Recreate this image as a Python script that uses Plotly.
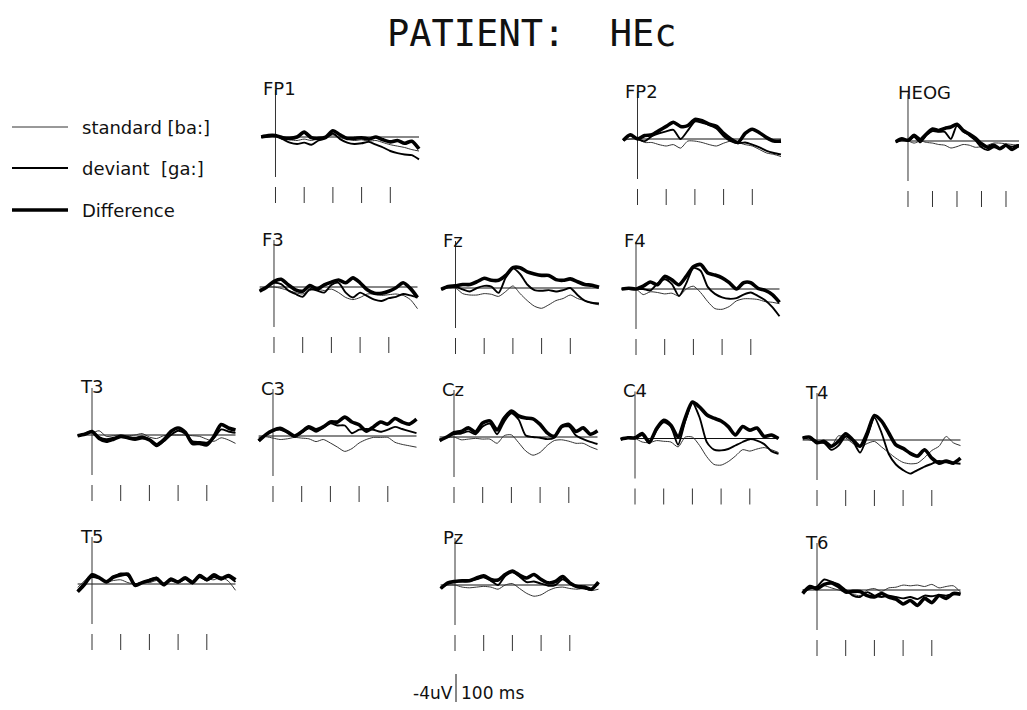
import plotly.graph_objects as go

# ---------------- data (µV, negative = up, as in the original ERP plot) ----------------
times = [-50, -25, 0, 25, 50, 75, 100, 125, 150, 175, 200, 225, 250, 275, 300, 325, 350, 375, 400, 425, 450, 475, 500]
tick_ms = [0, 100, 200, 300, 400]
channels = ["FP1", "FP2", "HEOG", "F3", "Fz", "F4", "T3", "C3", "Cz", "C4", "T4", "T5", "Pz", "T6"]
series_names = ["standard [ba:]", "deviant  [ga:]", "Difference"]

FP1_std = [0.0, 0.0, -0.1, 0.2, 0.4, 0.5, 0.3, 0.5, 0.2, 0.0, -0.3, 0.1, 0.3, 0.5, 0.4, 0.6, 0.5, 0.8, 1.1, 1.3, 1.5, 1.8, 2.0]
FP1_dev = [0.0, -0.1, -0.2, 0.3, 0.8, 1.0, 0.8, 1.1, 0.5, 0.2, -0.5, 0.3, 0.8, 1.0, 0.9, 0.7, 1.1, 1.5, 2.0, 2.3, 2.5, 2.6, 3.2]
FP1_diff = [0.0, -0.2, -0.2, 0.1, 0.2, 0.0, -0.7, 0.1, 0.2, 0.0, -0.9, -0.3, 0.2, 0.2, 0.1, 0.3, 0.0, 0.4, 0.7, 0.5, 0.9, 0.6, 1.7]

FP2_std = [0.2, 0.0, 0.0, 0.5, 0.5, 0.8, 1.0, 0.8, 1.3, 0.3, 0.3, 0.5, 0.8, 1.0, 0.6, 0.3, 0.5, 0.8, 1.0, 1.5, 2.0, 2.2, 2.5]
FP2_dev = [0.2, -0.5, 0.0, 0.3, -0.4, -0.8, -1.1, -1.3, 0.0, -1.2, -2.5, -2.3, -2.0, -1.5, -0.4, 0.3, 0.6, 0.5, 0.8, 1.2, 1.7, 2.0, 2.2]
FP2_diff = [0.2, -0.6, 0.0, -0.5, -0.6, -1.2, -1.8, -2.4, -1.8, -1.9, -2.8, -2.6, -2.1, -1.8, -0.8, 0.0, 0.5, -0.8, -1.4, -0.9, -0.2, 0.3, 0.3]

HEOG_std = [0.1, 0.0, 0.0, 0.3, 0.0, 0.2, 0.3, 0.5, 0.6, 1.0, 0.8, 0.5, 0.6, 0.9, 0.8, 0.6, 0.3, 0.3, 0.4, 0.5, 0.6, 0.5, 0.5]
HEOG_dev = [0.2, -0.3, 0.0, -0.6, 0.2, -0.8, -1.4, -1.3, -1.3, -0.3, -2.2, -1.4, -0.8, -0.1, 0.9, 1.3, 0.9, 1.0, 0.7, 0.8, 0.6, 0.8, 0.5]
HEOG_diff = [0.1, -0.3, -0.1, -0.8, -0.2, -1.0, -1.7, -1.5, -1.8, -2.0, -2.4, -1.5, -1.0, -0.4, 0.4, 0.9, 0.6, 1.1, 0.6, 1.2, 0.7, 0.9, 0.4]

F3_std = [0.3, 0.0, 0.0, 0.2, 0.5, 0.8, 1.0, 0.5, 0.3, 0.5, 0.3, 0.8, 1.5, 1.8, 1.5, 1.0, 1.0, 1.2, 1.1, 1.0, 1.2, 1.8, 3.1]
F3_dev = [0.6, 0.0, -0.6, -0.4, 0.5, 1.0, 1.4, 0.3, 0.5, 0.8, -0.3, -0.6, 0.8, 1.5, 0.8, 1.3, 1.8, 2.0, 1.6, 1.4, 1.0, 1.2, 1.5]
F3_diff = [0.6, 0.0, -0.8, -1.1, -0.3, 0.4, 0.6, -0.2, 0.3, -0.3, -0.7, -1.0, -0.6, -1.3, -0.6, 0.4, 0.9, 0.9, 0.6, 0.1, -0.6, 0.2, 1.5]

Fz_std = [0.2, 0.0, 0.0, 0.8, 1.0, 1.0, 0.8, 0.9, 1.2, 0.5, -0.3, 0.8, 1.8, 2.6, 2.9, 2.4, 1.8, 1.5, 1.0, 1.5, 1.8, 2.2, 2.4]
Fz_dev = [0.2, -0.2, -0.2, 0.2, 0.5, 0.0, -0.3, -0.2, 0.7, -1.5, -2.8, -2.0, -0.5, 0.3, 0.4, 0.3, 0.5, 0.3, 0.0, 1.0, 1.8, 2.1, 2.2]
Fz_diff = [0.2, -0.2, -0.3, -0.5, -0.5, -0.9, -1.4, -1.1, -1.1, -1.8, -2.9, -2.9, -2.3, -2.0, -1.8, -1.8, -1.2, -1.1, -1.3, -0.9, -0.5, -0.4, -0.1]

F4_std = [0.0, 0.0, 0.0, 0.8, 0.4, 0.5, 0.7, 0.6, 1.0, 0.0, -0.4, 0.5, 1.8, 2.8, 2.9, 2.5, 1.7, 1.4, 1.4, 1.5, 1.8, 1.9, 2.1]
F4_dev = [0.0, 0.0, 0.0, 0.0, 0.2, -0.8, -1.4, -0.7, 1.0, -0.8, -3.0, -2.6, -0.3, 0.7, 1.2, 1.4, 1.3, 0.8, 0.5, 1.0, 1.6, 2.6, 3.9]
F4_diff = [0.0, -0.1, 0.0, -0.4, -1.0, -0.6, -1.8, -1.3, -0.6, -1.8, -3.2, -3.5, -2.3, -2.0, -1.6, -0.9, 0.0, -0.9, -0.9, -0.1, 0.2, 0.8, 1.9]

T3_std = [0.0, -0.1, -0.3, -0.6, 0.2, 0.1, 0.0, 0.1, 0.0, -0.2, 0.3, 0.5, 0.1, 0.0, 0.0, 0.0, 0.1, 0.2, 0.6, 0.9, 0.4, 0.7, 1.2]
T3_dev = [0.1, -0.2, -0.5, 0.3, 0.6, 0.4, 0.2, 0.3, 0.4, 0.2, 0.6, 1.6, 0.9, 0.0, -0.6, -0.2, 0.9, 1.0, 1.1, 0.4, -0.8, -0.5, -0.3]
T3_diff = [0.1, -0.1, -0.5, 0.5, 0.9, 0.6, 0.2, 0.4, 0.6, 0.4, 0.7, 1.4, 0.7, -0.5, -1.0, -0.4, 1.2, 1.2, 1.4, 0.2, -1.5, -1.0, -0.7]

C3_std = [0.2, 0.1, 0.3, 0.5, 0.4, 0.2, 0.3, 0.4, 0.8, 0.5, 1.0, 1.6, 2.2, 1.8, 1.0, 0.5, 0.2, 0.2, 0.2, 0.9, 1.2, 1.4, 1.6]
C3_dev = [0.7, -0.2, -0.7, -0.9, -0.5, 0.1, -0.5, -1.1, -0.6, -1.2, -1.8, -1.5, -1.5, -0.4, -0.9, -1.0, -0.9, -0.6, -0.9, -1.3, -1.0, -0.7, -0.4]
C3_diff = [0.7, -0.2, -0.8, -1.1, -0.6, 0.0, -0.6, -1.3, -0.9, -1.3, -2.0, -2.0, -2.7, -2.0, -1.6, -0.7, -1.3, -2.0, -1.7, -2.5, -2.0, -1.7, -2.4]

Cz_std = [0.3, 0.1, 0.0, 0.4, 0.3, 0.2, 0.3, 0.3, 0.9, -0.2, -0.3, 0.8, 2.0, 2.6, 2.2, 1.2, 0.5, 0.4, 0.6, 0.9, 0.9, 1.4, 1.8]
Cz_dev = [0.5, 0.0, -0.4, -0.5, -0.8, -0.4, -1.5, -1.9, -0.4, -2.2, -3.4, -2.5, -0.2, 0.0, 0.1, 0.3, 0.1, -1.4, -1.5, -0.2, 0.3, 0.7, 1.0]
Cz_diff = [0.5, 0.0, -0.6, -0.8, -1.3, -0.7, -2.0, -2.3, -1.0, -2.7, -3.7, -3.0, -2.7, -2.6, -1.8, -0.6, -0.1, -1.5, -1.8, -0.8, -1.3, -0.4, -0.9]

C4_std = [0.0, 0.0, 0.0, 0.5, 0.6, 0.3, 0.4, 0.5, 1.2, -0.2, -0.2, 1.0, 2.6, 3.7, 3.8, 3.3, 2.5, 1.6, 1.8, 1.5, 1.3, 1.6, 2.0]
C4_dev = [0.1, -0.1, 0.0, -0.5, 0.7, -1.2, -2.3, -1.7, 0.9, -2.5, -5.1, -3.0, 0.5, 1.6, 1.7, 1.5, 1.0, 0.5, 0.1, 0.3, 0.8, 1.8, 2.2]
C4_diff = [0.1, -0.1, -0.1, -0.7, 0.5, -1.4, -2.6, -1.9, -0.2, -2.9, -5.2, -4.5, -3.4, -2.9, -2.5, -1.7, -0.5, -1.7, -1.2, -1.5, -0.3, -0.5, 0.0]

T4_std = [-0.3, 0.0, 0.3, 0.5, 0.8, -0.6, -0.3, 0.5, 1.0, 0.5, 0.2, 1.0, 1.8, 2.6, 3.2, 3.4, 3.3, 2.5, 1.5, 0.9, -0.5, 0.4, 0.8]
T4_dev = [-0.3, -0.4, 0.2, 0.4, 1.4, 0.8, -0.5, 0.2, 1.8, -0.5, -3.2, -1.0, 2.0, 3.5, 4.3, 4.8, 4.3, 3.8, 3.4, 3.0, 3.2, 3.3, 3.4]
T4_diff = [-0.3, -0.4, 0.4, 0.2, 0.9, 0.2, -0.9, 0.0, 0.9, -1.0, -3.5, -2.7, -1.0, 0.7, 1.2, 1.9, 2.3, 1.4, 2.6, 3.3, 3.0, 3.3, 2.6]

T5_std = [0.5, -0.5, -1.5, -0.8, -0.3, -0.5, -0.6, -0.2, 0.0, -0.3, -0.2, -0.5, -0.2, -0.6, -0.3, -0.9, -0.5, -1.2, -0.8, -0.6, -1.0, -0.4, 0.9]
T5_dev = [1.0, -0.2, -1.0, -0.8, -0.4, -1.0, -1.5, -1.2, 0.0, -0.2, -0.6, -0.9, 0.0, -0.5, -0.2, -0.7, -0.1, -1.0, -0.5, -1.0, -0.6, -1.0, -0.3]
T5_diff = [1.1, 0.0, -1.3, -0.9, -0.3, -1.0, -1.3, -1.4, 0.2, -0.2, -0.5, -0.8, 0.1, -0.7, -0.3, -0.9, -0.2, -1.2, -0.6, -1.3, -0.8, -1.2, -0.6]

Pz_std = [0.3, 0.0, 0.0, 0.3, 0.4, 0.3, 0.2, 0.3, 0.6, 0.0, -0.2, 0.5, 1.2, 1.6, 1.4, 0.8, 0.4, 0.3, 0.5, 0.6, 0.5, 0.8, 0.6]
Pz_dev = [0.5, -0.2, -0.5, -0.5, -0.6, -0.8, -1.1, -0.6, 0.0, -1.3, -1.8, -1.2, -0.4, -0.5, -0.2, 0.1, 0.0, -0.8, -0.2, 0.3, 0.5, 0.6, -0.3]
Pz_diff = [0.5, -0.3, -0.5, -0.6, -0.6, -1.0, -1.3, -0.8, -0.7, -1.5, -2.0, -1.4, -1.0, -1.5, -0.8, -0.3, -0.5, -1.2, -0.3, 0.2, 0.3, 0.6, -0.4]

T6_std = [0.0, -0.2, -0.3, -0.6, -0.3, 0.0, 0.3, 0.6, 0.8, 0.0, -0.2, 0.2, -0.3, -0.4, -0.7, -0.6, -0.7, -0.5, -0.8, -0.3, -0.5, -0.6, 0.3]
T6_dev = [0.3, -0.2, -0.5, -1.5, -1.2, -0.8, 0.0, 0.8, 1.0, 0.3, 0.8, 1.0, 0.8, 1.0, 1.2, 1.0, 1.3, 0.8, 0.9, 0.7, 0.8, 0.6, 0.5]
T6_diff = [0.5, -0.5, -0.2, -0.8, -1.0, -0.5, 0.3, 0.2, 0.2, 0.8, 1.0, 0.5, 1.0, 1.3, 2.0, 1.5, 2.2, 1.2, 1.8, 0.8, 1.2, 0.5, 0.6]

calib_uv = -4      # calibration bar: -4 µV
calib_ms = 100

DATA = {
    "FP1": (FP1_std, FP1_dev, FP1_diff), "FP2": (FP2_std, FP2_dev, FP2_diff),
    "HEOG": (HEOG_std, HEOG_dev, HEOG_diff), "F3": (F3_std, F3_dev, F3_diff),
    "Fz": (Fz_std, Fz_dev, Fz_diff), "F4": (F4_std, F4_dev, F4_diff),
    "T3": (T3_std, T3_dev, T3_diff), "C3": (C3_std, C3_dev, C3_diff),
    "Cz": (Cz_std, Cz_dev, Cz_diff), "C4": (C4_std, C4_dev, C4_diff),
    "T4": (T4_std, T4_dev, T4_diff), "T5": (T5_std, T5_dev, T5_diff),
    "Pz": (Pz_std, Pz_dev, Pz_diff), "T6": (T6_std, T6_dev, T6_diff),
}

# ---------------- layout (positions in window pixels) ----------------
OFF = 8                          # page body margin
W, H = 1027 - 2 * OFF, 710 - 2 * OFF   # figure fits the window exactly (no scrollbars)
PX_UV = 7.0           # pixels per µV
# zero-time x, baseline y, pixels per ms
POS = {
    "FP1": (275.5, 137, 0.287), "FP2": (637.5, 139, 0.287), "HEOG": (908, 141, 0.245),
    "F3": (274, 287, 0.287), "Fz": (455.5, 288, 0.287), "F4": (636, 289, 0.287),
    "T3": (92, 435, 0.287), "C3": (273, 436, 0.287), "Cz": (454, 437, 0.287),
    "C4": (635, 438.5, 0.287), "T4": (817, 440, 0.287),
    "T5": (92, 584, 0.287), "Pz": (455, 585, 0.287), "T6": (817, 590, 0.287),
}
TOP_PX, BOT_PX = 60, 72
MS_LEFT, MS_RIGHT = 60, 520
FONT = "DejaVu Sans, sans-serif"


def px_x(px):
    return (px - OFF) / W


def px_y(py):
    return 1 - (py - OFF) / H


STYLES = [dict(width=1.0, color="#333"), dict(width=1.9, color="#000"), dict(width=3.6, color="#000")]

fig = go.Figure()
layout = dict(width=W, height=H, margin=dict(l=0, r=0, t=0, b=0),
              paper_bgcolor="white", plot_bgcolor="white", showlegend=False)
annotations = []
shapes = []

for k, ch in enumerate(channels, start=1):
    axx, base, sx = POS[ch]
    x0 = px_x(axx - MS_LEFT * sx)
    x1 = px_x(axx + MS_RIGHT * sx)
    xr = [-MS_LEFT, MS_RIGHT]
    if x1 > 1.0:
        xr = [-MS_LEFT, -MS_LEFT + (1.0 - x0) * W / sx]
        x1 = 1.0
    y0 = px_y(base + BOT_PX)
    y1 = px_y(base - TOP_PX)
    xn = "x" if k == 1 else f"x{k}"
    yn = "y" if k == 1 else f"y{k}"
    layout["xaxis" if k == 1 else f"xaxis{k}"] = dict(domain=[x0, x1], range=xr, visible=False,
                                                     anchor=yn, fixedrange=True)
    layout["yaxis" if k == 1 else f"yaxis{k}"] = dict(domain=[y0, y1],
                                                     range=[BOT_PX / PX_UV, -TOP_PX / PX_UV],
                                                     visible=False, anchor=xn, fixedrange=True)
    # baseline
    fig.add_trace(go.Scatter(x=[times[0], times[-1]], y=[0, 0], mode="lines",
                             line=dict(color="#111", width=1), xaxis=xn, yaxis=yn, hoverinfo="skip"))
    # zero-time vertical axis
    fig.add_trace(go.Scatter(x=[0, 0], y=[-47 / PX_UV, 40 / PX_UV], mode="lines",
                             line=dict(color="#333", width=1), xaxis=xn, yaxis=yn, hoverinfo="skip"))
    # time ticks (every 100 ms)
    tx, ty = [], []
    for t in tick_ms:
        tx += [t, t, None]
        ty += [50 / PX_UV, 66 / PX_UV, None]
    fig.add_trace(go.Scatter(x=tx, y=ty, mode="lines", line=dict(color="#333", width=1),
                             xaxis=xn, yaxis=yn, hoverinfo="skip"))
    # waveforms
    for s, vals in enumerate(DATA[ch]):
        fig.add_trace(go.Scatter(x=times, y=vals, mode="lines", name=series_names[s],
                                 line=dict(shape="spline", smoothing=0.7, **STYLES[s]),
                                 xaxis=xn, yaxis=yn))
    annotations.append(dict(x=-50, y=-48 / PX_UV, xref=xn, yref=yn, text=ch, showarrow=False,
                            xanchor="left", yanchor="middle",
                            font=dict(family=FONT, size=18, color="#111")))

# calibration bar axes (bar spans 0 .. -4 µV at the panel scale)
k = len(channels) + 1
cal_x, cal_base = 456, 702
layout[f"xaxis{k}"] = dict(domain=[px_x(cal_x - 20), px_x(cal_x + 20)], range=[-20 / 0.287, 20 / 0.287],
                           visible=False, anchor=f"y{k}", fixedrange=True)
layout[f"yaxis{k}"] = dict(domain=[px_y(cal_base), px_y(cal_base - 40)], range=[0, -40 / PX_UV],
                           visible=False, anchor=f"x{k}", fixedrange=True)
fig.add_trace(go.Scatter(x=[0, 0], y=[0, calib_uv], mode="lines", line=dict(color="#111", width=1),
                         xaxis=f"x{k}", yaxis=f"y{k}", hoverinfo="skip", cliponaxis=False))
annotations.append(dict(x=-4, y=-9 / PX_UV, xref=f"x{k}", yref=f"y{k}", text=f"{calib_uv}uV",
                        showarrow=False, xanchor="right", yanchor="middle",
                        font=dict(family=FONT, size=17, color="#111")))
annotations.append(dict(x=12, y=-9 / PX_UV, xref=f"x{k}", yref=f"y{k}", text=f"{calib_ms} ms",
                        showarrow=False, xanchor="left", yanchor="middle",
                        font=dict(family=FONT, size=17, color="#111")))

# legend (drawn as sample lines + labels, top-left)
leg_y = [127, 168, 210]
for s, name in enumerate(series_names):
    yp = px_y(leg_y[s])
    shapes.append(dict(type="line", xref="paper", yref="paper", x0=px_x(12), x1=px_x(68), y0=yp, y1=yp,
                       line=dict(color=STYLES[s]["color"], width=STYLES[s]["width"])))
    annotations.append(dict(x=px_x(80), y=yp, xref="paper", yref="paper",
                            text=name.replace("  ", "&nbsp;&nbsp;"),
                            showarrow=False, xanchor="left", yanchor="middle",
                            font=dict(family=FONT, size=18, color="#111")))

# title
annotations.append(dict(x=px_x(532), y=px_y(34), xref="paper", yref="paper", text="PATIENT:&nbsp;&nbsp;HEc",
                        showarrow=False, xanchor="center", yanchor="middle",
                        font=dict(family="DejaVu Sans Mono, monospace", size=37, color="#111")))

layout["annotations"] = annotations
layout["shapes"] = shapes
fig.update_layout(**layout)
fig.write_html("out.html")
